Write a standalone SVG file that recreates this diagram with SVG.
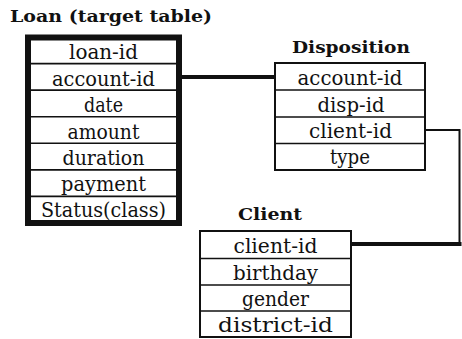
<svg xmlns="http://www.w3.org/2000/svg" width="462" height="339" viewBox="0 0 462 339">
<style>
.title{font-family:"DejaVu Serif","Liberation Serif",serif;font-weight:bold;font-size:17px;fill:#111}
.f{font-family:"DejaVu Serif","Liberation Serif",serif;font-size:19.5px;fill:#111;text-anchor:middle}
.row{fill:#fff;stroke:#111;stroke-width:1.6}
.thick{fill:none;stroke:#111;stroke-width:6}
.thin{fill:none;stroke:#111;stroke-width:2}
.conn{fill:none;stroke:#111;stroke-linecap:square}
</style>
<rect width="462" height="339" fill="#fff"/>
<g id="loan">
<text class="title" x="10" y="22" textLength="202" lengthAdjust="spacingAndGlyphs">Loan (target table)</text>
<rect class="row" x="28" y="37" width="151" height="186"/>
<line class="row" x1="28" y1="63.6" x2="179" y2="63.6"/>
<line class="row" x1="28" y1="90.1" x2="179" y2="90.1"/>
<line class="row" x1="28" y1="116.7" x2="179" y2="116.7"/>
<line class="row" x1="28" y1="143.3" x2="179" y2="143.3"/>
<line class="row" x1="28" y1="169.9" x2="179" y2="169.9"/>
<line class="row" x1="28" y1="196.4" x2="179" y2="196.4"/>
<rect class="thick" x="28" y="37.5" width="151" height="185.5"/>
<text class="f" x="103.5" y="59" textLength="69" lengthAdjust="spacingAndGlyphs">loan-id</text>
<text class="f" x="103.5" y="86" textLength="103" lengthAdjust="spacingAndGlyphs">account-id</text>
<text class="f" x="103.5" y="112" textLength="39" lengthAdjust="spacingAndGlyphs">date</text>
<text class="f" x="103.5" y="139" textLength="72" lengthAdjust="spacingAndGlyphs">amount</text>
<text class="f" x="103.5" y="165" textLength="82" lengthAdjust="spacingAndGlyphs">duration</text>
<text class="f" x="103.5" y="191" textLength="85" lengthAdjust="spacingAndGlyphs">payment</text>
<text class="f" x="103.5" y="217" textLength="125" lengthAdjust="spacingAndGlyphs">Status(class)</text>
</g>
<g id="disposition">
<text class="title" x="292" y="53" textLength="118" lengthAdjust="spacingAndGlyphs">Disposition</text>
<rect class="thin" x="275" y="63" width="150" height="107"/>
<line class="row" x1="275" y1="90" x2="425" y2="90"/>
<line class="row" x1="275" y1="117" x2="425" y2="117"/>
<line class="row" x1="275" y1="143.5" x2="425" y2="143.5"/>
<text class="f" x="350" y="85" textLength="105" lengthAdjust="spacingAndGlyphs">account-id</text>
<text class="f" x="351" y="112" textLength="67" lengthAdjust="spacingAndGlyphs">disp-id</text>
<text class="f" x="350.5" y="138" textLength="83" lengthAdjust="spacingAndGlyphs">client-id</text>
<text class="f" x="350" y="164" textLength="40" lengthAdjust="spacingAndGlyphs">type</text>
</g>
<g id="client">
<text class="title" x="238" y="220" textLength="64" lengthAdjust="spacingAndGlyphs">Client</text>
<rect class="thin" x="200" y="231" width="151" height="106"/>
<line class="row" x1="200" y1="258.5" x2="351" y2="258.5"/>
<line class="row" x1="200" y1="285" x2="351" y2="285"/>
<line class="row" x1="200" y1="311" x2="351" y2="311"/>
<text class="f" x="275.5" y="253" textLength="84" lengthAdjust="spacingAndGlyphs">client-id</text>
<text class="f" x="275.5" y="280" textLength="85" lengthAdjust="spacingAndGlyphs">birthday</text>
<text class="f" x="275.5" y="306" textLength="67" lengthAdjust="spacingAndGlyphs">gender</text>
<text class="f" x="275.5" y="332" textLength="115" lengthAdjust="spacingAndGlyphs">district-id</text>
</g>
<g id="connectors">
<line class="conn" x1="182" y1="77" x2="274" y2="77" stroke-width="4"/>
<polyline class="conn" points="426,130 459.5,130 459.5,244" stroke-width="2"/>
<line class="conn" x1="352" y1="244" x2="459.5" y2="244" stroke-width="4"/>
</g>
</svg>
